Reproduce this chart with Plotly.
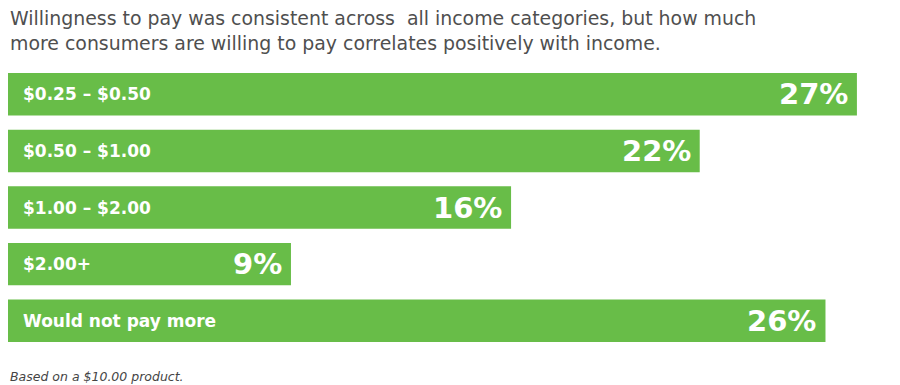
import plotly.graph_objects as go

categories = ["$0.25 – $0.50", "$0.50 – $1.00", "$1.00 – $2.00", "$2.00+", "Would not pay more"]
values = [27, 22, 16, 9, 26]
value_labels = ["27%", "22%", "16%", "9%", "26%"]

title_text = ("Willingness to pay was consistent across  all income categories, but how much<br>"
              "more consumers are willing to pay correlates positively with income.")
footnote = "Based on a $10.00 product."

GREEN = "#68BD48"
FONT = "DejaVu Sans"

ypos = list(range(len(categories)))

fig = go.Figure(go.Bar(
    x=values, y=ypos, orientation="h", width=0.75,
    marker=dict(color=GREEN, line=dict(width=0)),
    hoverinfo="skip",
))

annotations = []
for i, (c, v, lab) in enumerate(zip(categories, values, value_labels)):
    annotations.append(dict(x=0, y=i, xref="x", yref="y", text="<b>" + c + "</b>",
                            showarrow=False, xanchor="left", yanchor="middle", xshift=13,
                            font=dict(family=FONT, size=17, color="white")))
    annotations.append(dict(x=v, y=i, xref="x", yref="y", text="<b>" + lab + "</b>",
                            showarrow=False, xanchor="right", yanchor="middle", xshift=-7,
                            font=dict(family=FONT, size=29, color="white")))

annotations.append(dict(x=0, y=1.0, xref="paper", yref="paper", text=title_text, yshift=36,
                        showarrow=False, xanchor="left", yanchor="middle", align="left",
                        font=dict(family=FONT, size=18.9, color="#4f4f4f")))
annotations.append(dict(x=0, y=0, xref="paper", yref="paper", text="<i>" + footnote + "</i>",
                        yshift=-27, showarrow=False, xanchor="left", yanchor="middle",
                        align="left", font=dict(family=FONT, size=12.5, color="#444444")))

fig.update_layout(
    width=892, height=377,
    margin=dict(l=0, r=0, t=58, b=36),
    plot_bgcolor="white", paper_bgcolor="white",
    showlegend=False,
    xaxis=dict(range=[0, 28.37], visible=False, fixedrange=True),
    yaxis=dict(range=[4.5, -0.5], visible=False, fixedrange=True),
    annotations=annotations,
)

fig.write_html("out.html")
